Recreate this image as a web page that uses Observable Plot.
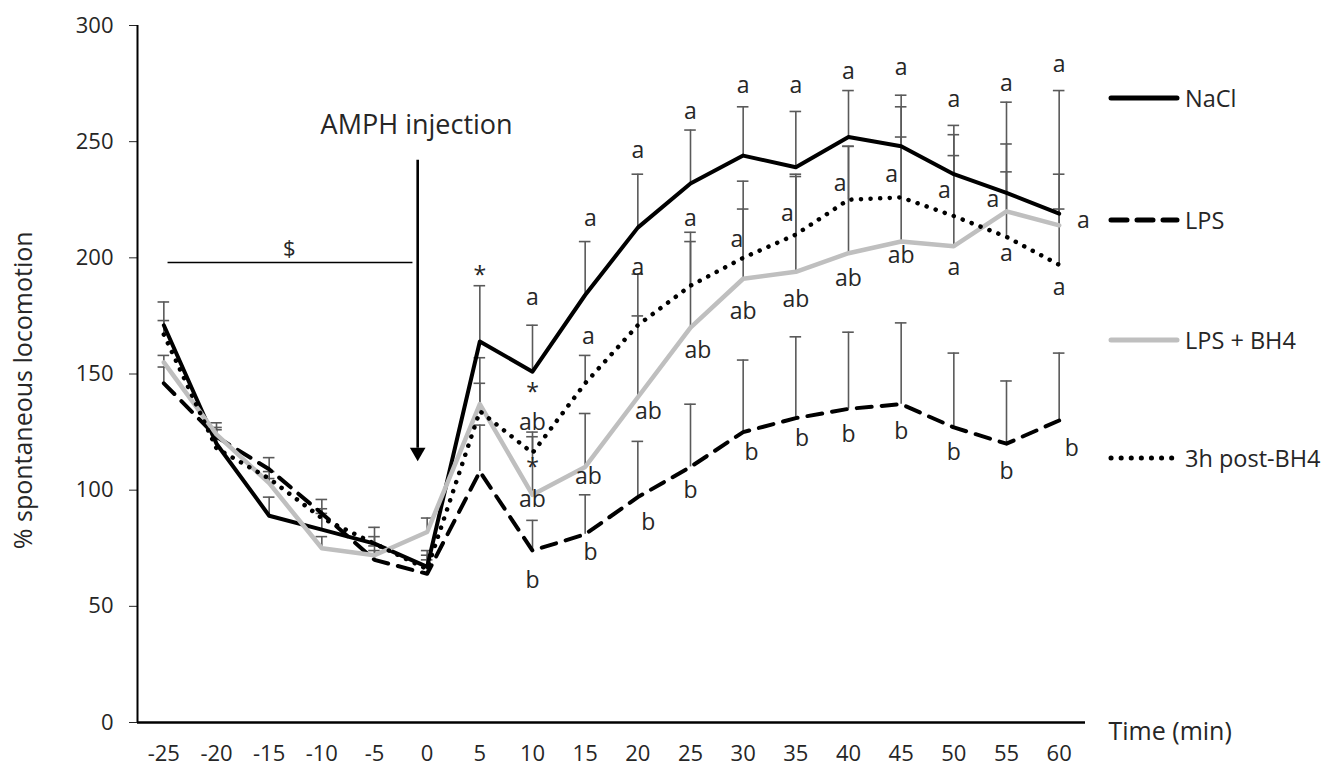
<!DOCTYPE html>
<html><head><meta charset="utf-8">
<script src="https://cdn.jsdelivr.net/npm/d3@7"></script>
<script src="https://cdn.jsdelivr.net/npm/@observablehq/plot@0.6"></script>
<style>
body{margin:0;background:#fff;font-family:"Open Sans",sans-serif;}
#wrap{position:relative;width:1325px;height:766px;overflow:hidden;}
.item{position:absolute;left:1108px;display:flex;align-items:center;height:30px;font-size:23.5px;color:#262626;white-space:nowrap;}
.item svg{margin-right:5px;}
</style></head><body><div id="wrap"></div>
<script>
// Time points (min)
const times = [-25,-20,-15,-10,-5,0,5,10,15,20,25,30,35,40,45,50,55,60];
// Series means (% spontaneous locomotion)
const naclMean = [171,120,89,83,77,67,164,151,184,213,232,244,239,252,248,236,228,219];
const lpsMean  = [146,123,109,90,70,64,108,74,81,97,110,125,131,135,137,127,120,130];
const bh4Mean  = [155,124,103,75,72,82,137,98,110,140,170,191,194,202,207,205,220,214];
const postMean = [167,118,105,88,77,66,134,116,146,171,188,200,210,225,226,218,209,197];
// Upper ends of error bars
const naclHi = [181,126,97,90,84,74,188,171,207,236,255,265,263,272,270,257,267,272];
const lpsHi  = [153,129,114,96,76,70,128,87,98,121,137,156,166,168,172,159,147,159];
const bh4Hi  = [158,127,105,80,74,88,157,123,133,193,211,233,236,248,252,244,237,236];
const postHi = [173,122,108,92,80,72,146,125,158,175,207,221,235,248,265,253,249,221];
// Series names
const seriesNames = ["NaCl","LPS","LPS + BH4","3h post-BH4"];
// Significance letters: time, value, label
const letterT = [5,10,10,10,10,10,10,15.5,15.3,15.3,15.5,20,20,21,21,25,25,25.7,25,30,29.4,30,30.8,35,34.2,35,35.6,40,39.2,40,40,45,44.1,45,45,50,49.1,50,50,55,53.7,55,55,60,62.3,60,61.2];
const letterV = [192.5,183,142,129,109.5,96,61,217,166,106,73,246,196,134,86,263,217,160,100,274,208,177,116,274,219,182,122,280,232,191,124,282,236,201,125,268,229,196,116,275,225,202,108,283,216,187,118];
const letterS = ["*","a","*","ab","*","ab","b","a","a","ab","b","a","a","ab","b","a","a","ab","b","a","a","ab","b","a","a","ab","b","a","a","ab","b","a","a","ab","b","a","a","a","b","a","a","a","b","a","a","a","b"];
// Y ticks
const yTicks = [0,50,100,150,200,250,300];

const means = [naclMean, lpsMean, bh4Mean, postMean];
const his = [naclHi, lpsHi, bh4Hi, postHi];
const rows = [];
seriesNames.forEach((s, i) => times.forEach((t, j) => rows.push({series: s, t, v: means[i][j], hi: his[i][j]})));
const letters = letterT.map((t, i) => ({t, v: letterV[i], s: letterS[i]}));
const bySeries = s => rows.filter(d => d.series === s);

const errColor = "#5a5a5a";
const chart = Plot.plot({
  width: 1325, height: 766,
  marginLeft: 137, marginRight: 240, marginTop: 25, marginBottom: 44,
  style: {fontFamily: '"Open Sans", sans-serif', fontSize: "22px", color: "#262626", background: "#fff"},
  x: {domain: [-27.5, 62.5], ticks: times, tickFormat: d => String(d), tickSize: 0, tickPadding: 23, label: null},
  y: {domain: [0, 300], ticks: yTicks, tickSize: 8, tickPadding: 16, label: null},
  marks: [
    Plot.ruleX(rows, {x: "t", y1: "v", y2: "hi", stroke: errColor, strokeWidth: 1.6}),
    Plot.ruleY(rows, {y: "hi", x1: d => d.t - 0.55, x2: d => d.t + 0.55, stroke: errColor, strokeWidth: 1.6}),
    Plot.line(bySeries("NaCl"), {x: "t", y: "v", stroke: "#000", strokeWidth: 4}),
    Plot.line(bySeries("LPS"), {x: "t", y: "v", stroke: "#000", strokeWidth: 4, strokeDasharray: "15,10", strokeLinecap: "round"}),
    Plot.line(bySeries("LPS + BH4"), {x: "t", y: "v", stroke: "#bfbfbf", strokeWidth: 4.5}),
    Plot.line(bySeries("3h post-BH4"), {x: "t", y: "v", stroke: "#000", strokeWidth: 4.5, strokeDasharray: "0.1,9.5", strokeLinecap: "round"}),
    Plot.ruleX([-27.5], {y1: 0, y2: 300, stroke: "#000", strokeWidth: 2}),
    Plot.ruleY([0], {stroke: "#000", strokeWidth: 2.5}),
    // $ bar
    Plot.ruleY([198], {x1: -24.6, x2: -1.35, stroke: "#000", strokeWidth: 1.6}),
    Plot.text(["$"], {x: -13.1, y: 204, text: d => d, fontSize: 22, fill: "#262626"}),
    // AMPH injection arrow
    Plot.text(["AMPH injection"], {x: -1.0, y: 257, text: d => d, fontSize: 27, fill: "#262626"}),
    Plot.ruleX([-0.9], {y1: 242, y2: 118, stroke: "#000", strokeWidth: 2.6}),
    Plot.dot([112], {x: -0.9, y: d => d, symbol: "triangle", r: 5.8, rotate: 180, dy: -10, fill: "#000", stroke: "none"}),
    // letters
    Plot.text(letters, {x: "t", y: "v", text: "s", fontSize: 23, fill: "#262626"}),
    // axis titles
    Plot.text(["Time (min)"], {x: 62.5, y: 0, text: d => d, textAnchor: "start", dx: 23, dy: 9, fontSize: 25, fill: "#262626"}),
    Plot.text(["% spontaneous locomotion"], {frameAnchor: "left", y: 143, text: d => d, textAnchor: "middle", rotate: -90, dx: -114, fontSize: 25, fill: "#262626"})
  ]
});
const wrap = document.getElementById("wrap");
wrap.appendChild(chart);

// Legend (HTML)
const legendY = [98, 220, 340, 458];
const swatch = [
  {stroke: "#000", dash: null, w: 5},
  {stroke: "#000", dash: "16,10", w: 5},
  {stroke: "#bfbfbf", dash: null, w: 5},
  {stroke: "#000", dash: "0.1,10", w: 5}
];
seriesNames.forEach((s, i) => {
  const div = document.createElement("div");
  div.className = "item";
  div.style.top = (legendY[i] - 15) + "px";
  const sw = swatch[i];
  div.innerHTML = `<svg width="72" height="12"><line x1="3" y1="6" x2="69" y2="6" stroke="${sw.stroke}" stroke-width="${sw.w}" stroke-linecap="round" ${sw.dash ? `stroke-dasharray="${sw.dash}"` : ""}/></svg><span>${s}</span>`;
  wrap.appendChild(div);
});
</script></body></html>
